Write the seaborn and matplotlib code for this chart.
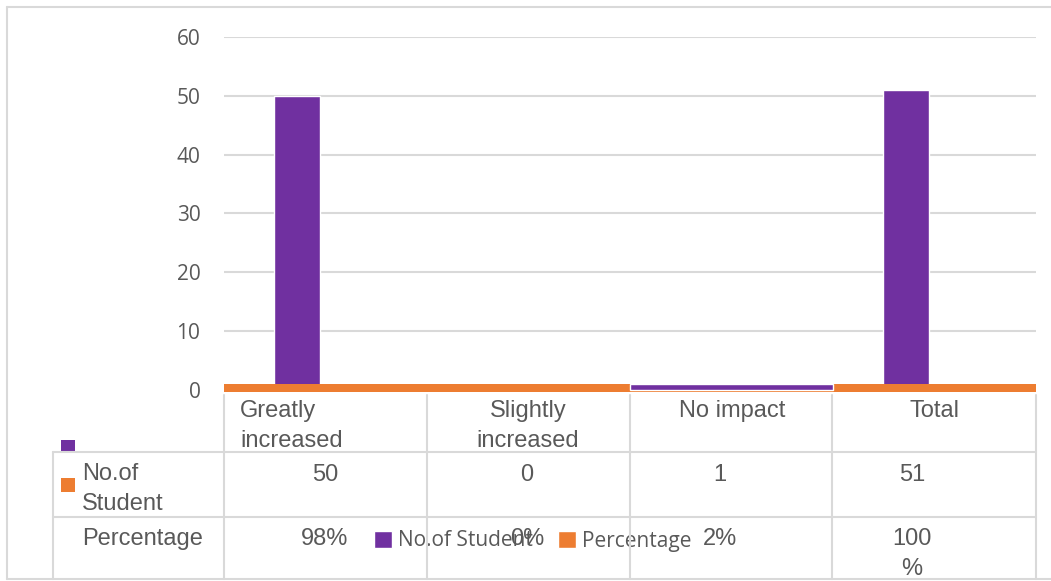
import matplotlib
matplotlib.use("Agg")
import matplotlib.pyplot as plt
from matplotlib.lines import Line2D
from matplotlib.patches import Rectangle
import pandas as pd
import seaborn as sns

# ---------------- data ----------------
categories = ["Greatly increased", "Slightly increased", "No impact", "Total"]
header_labels = ["Greatly\nincreased", "Slightly\nincreased", "No impact", "Total"]
students = [50, 0, 1, 51]
percentages = [98, 0, 2, 100]
series_names = ["No.of Student", "Percentage"]
row_labels = ["No.of\nStudent", "Percentage"]
y_ticks = [0, 10, 20, 30, 40, 50, 60]

PURPLE = "#7030A0"
ORANGE = "#ED7D31"
TXT = "#595959"
GRID = "#D9D9D9"

df = pd.DataFrame({
    "category": categories * 2,
    "series": [series_names[0]] * len(categories) + [series_names[1]] * len(categories),
    "value": students + [p / 100 for p in percentages],
})

sns.set_theme(style="white")
plt.rcParams["font.family"] = ["Liberation Sans", "DejaVu Sans"]

W, H = 1051, 581
fig = plt.figure(figsize=(W / 100, H / 100), dpi=100)
fig.patch.set_facecolor("white")


def fx(x):
    return x / W


def fy(y):
    return 1 - y / H


ax = fig.add_axes([fx(224), fy(395), (1036 - 224) / W, (395 - 37) / H])
sns.barplot(data=df, x="category", y="value", hue="series",
            palette=[PURPLE, ORANGE], saturation=1, width=0.56, gap=0.19,
            ax=ax, zorder=2, errorbar=None)
ax.set_ylim(-0.85, 60)
ax.set_xlim(-0.5, 3.5)
ax.set_yticks(y_ticks)
ax.set_yticklabels([str(t) for t in y_ticks], family=["Open Sans", "DejaVu Sans"],
                   fontsize=15, color=TXT)
ax.tick_params(axis="y", length=0, pad=17)
ax.set_xticks([])
ax.set_xlabel("")
ax.set_ylabel("")
ax.yaxis.grid(True, color=GRID, lw=1.5)
ax.set_axisbelow(True)
for s in ax.spines.values():
    s.set_visible(False)

# baseline band
ax.axhspan(-0.4, 1.0, color=ORANGE, zorder=3, lw=0)
# the small "No impact" count bar spans its whole category in the original
ni = categories.index("No impact")
bar = ax.containers[0][ni]
bar.set_x(ni - 0.5)
bar.set_width(1.0)
bar.set_zorder(4)

# legend
sns.move_legend(ax, "center", bbox_to_anchor=(fx(533), fy(541)),
                bbox_transform=fig.transFigure, ncol=2, frameon=False, title=None,
                prop={"family": ["Open Sans", "DejaVu Sans"], "size": 15},
                labelcolor=TXT, handlelength=0.85, handleheight=0.85,
                handletextpad=0.3, columnspacing=1.2)


# ---------------- data table ----------------
def hline(y, x0, x1):
    fig.add_artist(Line2D([fx(x0), fx(x1)], [fy(y), fy(y)], color=GRID, lw=1.5,
                          transform=fig.transFigure))


def vline(x, y0, y1):
    fig.add_artist(Line2D([fx(x), fx(x)], [fy(y0), fy(y1)], color=GRID, lw=1.5,
                          transform=fig.transFigure))


# outer frame
hline(7, 7, W)
hline(579, 7, W)
vline(7, 7, 579)

col_edges = [224, 427, 630, 832, 1036]
for x in col_edges:
    vline(x, 395, 579)
vline(53, 452, 579)
hline(452, 53, 1036)
hline(517, 53, 1036)

tk = dict(fontsize=17, color=TXT, linespacing=1.45)
# header row
header_x = [240, 528, 732, 935]
for i, lab in enumerate(header_labels):
    if i == 0:
        fig.text(fx(header_x[i]), fy(400), lab, ha="left", va="top", multialignment="left", **tk)
    else:
        fig.text(fx(header_x[i]), fy(400), lab, ha="center", va="top", multialignment="center", **tk)

# row labels
fig.text(fx(82), fy(463), row_labels[0], ha="left", va="top", **tk)
fig.text(fx(82), fy(528), row_labels[1], ha="left", va="top", **tk)

# key squares
fig.add_artist(Rectangle((fx(61), fy(453)), 14 / W, 13 / H, color=PURPLE,
                         transform=fig.transFigure, lw=0))
fig.add_artist(Rectangle((fx(61), fy(492)), 14 / W, 14 / H, color=ORANGE,
                         transform=fig.transFigure, lw=0))

value_x = [325, 527, 720, 912]
for i in range(len(categories)):
    fig.text(fx(value_x[i]), fy(464), str(students[i]), ha="center", va="top", **tk)
    p = f"{percentages[i]}%"
    if len(p) > 3:
        p = p[:-1] + "\n%"
    fig.text(fx(value_x[i]), fy(528), p, ha="center", va="top", multialignment="center", **tk)

fig.savefig("out.png", dpi=100)
